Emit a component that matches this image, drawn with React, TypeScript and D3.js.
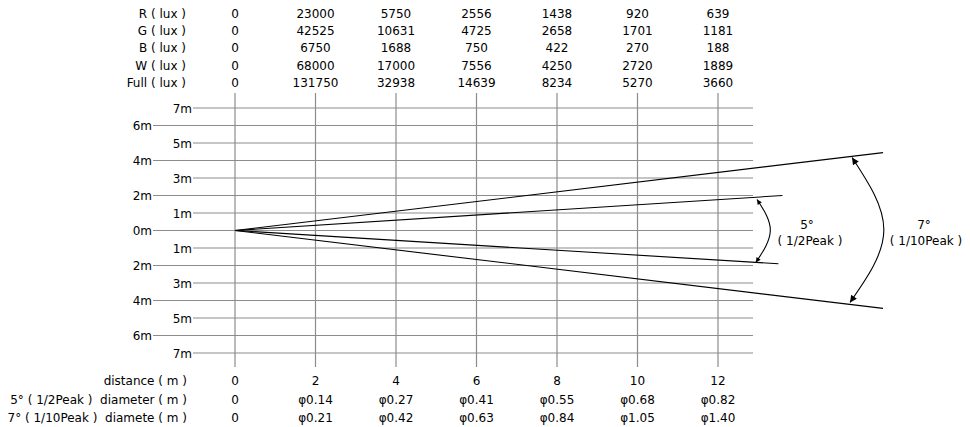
import React from "react";
import * as d3 from "d3";

const distances = [0, 2, 4, 6, 8, 10, 12];
const rowLabels = ["R ( lux )", "G ( lux )", "B ( lux )", "W ( lux )", "Full ( lux )"];
const rValues = ["0", "23000", "5750", "2556", "1438", "920", "639"];
const gValues = ["0", "42525", "10631", "4725", "2658", "1701", "1181"];
const bValues = ["0", "6750", "1688", "750", "422", "270", "188"];
const wValues = ["0", "68000", "17000", "7556", "4250", "2720", "1889"];
const fullValues = ["0", "131750", "32938", "14639", "8234", "5270", "3660"];
const bottomLabels = ["distance ( m )", "5° ( 1/2Peak )  diameter ( m )", "7° ( 1/10Peak )  diamete ( m )"];
const distanceRow = ["0", "2", "4", "6", "8", "10", "12"];
const halfPeakRow = ["0", "φ0.14", "φ0.27", "φ0.41", "φ0.55", "φ0.68", "φ0.82"];
const tenthPeakRow = ["0", "φ0.21", "φ0.42", "φ0.63", "φ0.84", "φ1.05", "φ1.40"];
const yTicks = [7, 6, 5, 4, 3, 2, 1, 0, -1, -2, -3, -4, -5, -6, -7];
// beam edges (distance units, metre units) – schematic
const innerBeam = [{ d: 13.6, h: 2.0 }, { d: 13.5, h: -1.9 }];
const outerBeam = [{ d: 16.1, h: 4.45 }, { d: 16.1, h: -4.45 }];
const innerArc = [{ d: 12.97, h: 1.77 }, { d: 13.3, h: 0 }, { d: 12.94, h: -1.83 }];
const outerArc = [{ d: 15.33, h: 4.17 }, { d: 16.12, h: 0 }, { d: 15.28, h: -4.11 }];

const W = 970;
const H = 427;
const FONT = "'DejaVu Sans', Verdana, sans-serif";

export default function App() {
  const x = d3.scaleLinear().domain([0, 12]).range([235, 718]);
  const y = d3.scaleLinear().domain([-7, 7]).range([353, 108]);
  const gridRight = 753;
  const topRows = [rValues, gValues, bValues, wValues, fullValues];
  const topBase = d3.scaleLinear().domain([0, 4]).range([17.5, 87]);
  const bottomRows = [distanceRow, halfPeakRow, tenthPeakRow];
  const bottomBase = d3.scaleLinear().domain([0, 2]).range([385, 422]);
  const arcLine = d3
    .line<{ d: number; h: number }>()
    .x((p) => x(p.d))
    .y((p) => y(p.h))
    .curve(d3.curveNatural);
  const fs = 12;
  return (
    <svg width={W} height={H} style={{ position: "absolute", left: 0, top: 0 }} fontFamily={FONT}>
      <defs>
        <marker id="arrS" viewBox="0 0 10 10" refX="10" refY="5" markerWidth="7" markerHeight="5" markerUnits="userSpaceOnUse" orient="auto-start-reverse">
          <path d="M0,0 L10,5 L0,10 z" fill="#000" />
        </marker>
        <marker id="arrL" viewBox="0 0 10 10" refX="10" refY="5" markerWidth="11" markerHeight="7" markerUnits="userSpaceOnUse" orient="auto-start-reverse">
          <path d="M0,0 L10,5 L0,10 z" fill="#000" />
        </marker>
      </defs>
      <rect width={W} height={H} fill="#fff" />
      {/* vertical grid lines */}
      {distances.map((d) => (
        <line key={"v" + d} x1={x(d)} x2={x(d)} y1={93} y2={367} stroke="#8c8c8c" strokeWidth={1.2} />
      ))}
      {/* horizontal grid lines + labels */}
      {yTicks.map((t, i) => {
        const odd = Math.abs(t) % 2 === 1;
        const start = odd ? 193 : 153;
        return (
          <g key={"h" + i}>
            <line x1={start} x2={gridRight} y1={y(t)} y2={y(t)} stroke="#8c8c8c" strokeWidth={1.2} />
            <text x={start - 1} y={y(t) + 4.5} textAnchor="end" fontSize={fs} fill="#000">
              {Math.abs(t) + "m"}
            </text>
          </g>
        );
      })}
      {/* beam lines */}
      {[...innerBeam, ...outerBeam].map((p, i) => (
        <line key={"b" + i} x1={x(0)} y1={y(0)} x2={x(p.d)} y2={y(p.h)} stroke="#000" strokeWidth={1.1} />
      ))}
      <path d={arcLine(innerArc) || ""} fill="none" stroke="#000" strokeWidth={1.1} markerStart="url(#arrS)" markerEnd="url(#arrS)" />
      <path d={arcLine(outerArc) || ""} fill="none" stroke="#000" strokeWidth={1.1} markerStart="url(#arrL)" markerEnd="url(#arrL)" />
      <text x={807} y={229} textAnchor="middle" fontSize={fs}>5°</text>
      <text x={810} y={245} textAnchor="middle" fontSize={fs}>( 1/2Peak )</text>
      <text x={924} y={229} textAnchor="middle" fontSize={fs}>7°</text>
      <text x={926} y={245} textAnchor="middle" fontSize={fs}>( 1/10Peak )</text>
      {/* top table */}
      {rowLabels.map((l, i) => (
        <g key={"tr" + i}>
          <text x={186} y={topBase(i)} textAnchor="end" fontSize={fs}>{l}</text>
          {topRows[i].map((v, j) => (
            <text key={j} x={x(distances[j])} y={topBase(i)} textAnchor="middle" fontSize={fs}>{v}</text>
          ))}
        </g>
      ))}
      {/* bottom table */}
      {bottomLabels.map((l, i) => (
        <g key={"br" + i}>
          <text x={187} y={bottomBase(i)} textAnchor="end" fontSize={fs} style={{ whiteSpace: "pre" }}>{l}</text>
          {bottomRows[i].map((v, j) => (
            <text key={j} x={x(distances[j])} y={bottomBase(i)} textAnchor="middle" fontSize={fs}>{v}</text>
          ))}
        </g>
      ))}
    </svg>
  );
}
